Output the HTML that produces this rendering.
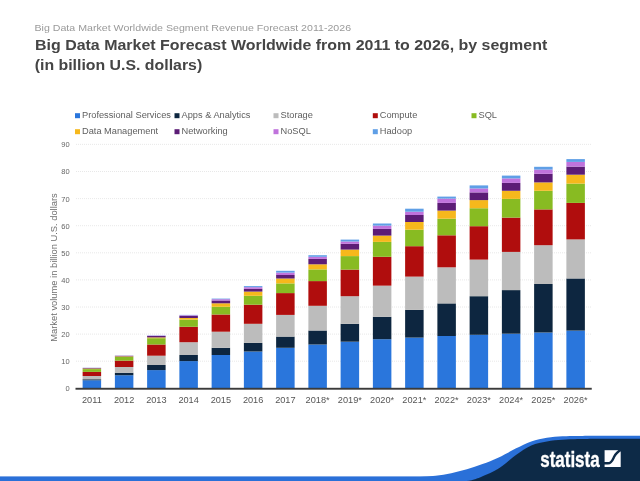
<!DOCTYPE html>
<html lang="en"><head><meta charset="utf-8"><title>Big Data Market Forecast Worldwide from 2011 to 2026, by segment</title>
<style>html,body{margin:0;padding:0;background:#fff}body{width:640px;height:481px;overflow:hidden}</style></head>
<body>
<svg width="640" height="481" viewBox="0 0 640 481" style="display:block;font-family:'Liberation Sans',sans-serif">
<defs><filter id="soft" x="0" y="0" width="640" height="481" filterUnits="userSpaceOnUse"><feGaussianBlur stdDeviation="0.6" edgeMode="duplicate"/></filter></defs>
<g filter="url(#soft)">
<rect width="640" height="481" fill="#fff"/>
<text x="34.5" y="31.2" font-size="9.6" fill="#9a9a9a" textLength="316.6" lengthAdjust="spacingAndGlyphs">Big Data Market Worldwide Segment Revenue Forecast 2011-2026</text>
<text x="35" y="50.4" font-size="14.7" font-weight="bold" fill="#454545" textLength="512.2" lengthAdjust="spacingAndGlyphs">Big Data Market Forecast Worldwide from 2011 to 2026, by segment</text>
<text x="34.7" y="69.9" font-size="14.7" font-weight="bold" fill="#454545" textLength="167.5" lengthAdjust="spacingAndGlyphs">(in billion U.S. dollars)</text>
<rect x="75" y="113.2" width="5" height="5" fill="#2976dc"/>
<text x="82" y="118.3" font-size="9.25" fill="#5e5e5e">Professional Services</text>
<rect x="174.5" y="113.2" width="5" height="5" fill="#10283f"/>
<text x="181.5" y="118.3" font-size="9.25" fill="#5e5e5e">Apps &amp; Analytics</text>
<rect x="273.5" y="113.2" width="5" height="5" fill="#bcbcbc"/>
<text x="280.5" y="118.3" font-size="9.25" fill="#5e5e5e">Storage</text>
<rect x="372.8" y="113.2" width="5" height="5" fill="#b00d0b"/>
<text x="379.8" y="118.3" font-size="9.25" fill="#5e5e5e">Compute</text>
<rect x="471.5" y="113.2" width="5" height="5" fill="#88bb22"/>
<text x="478.5" y="118.3" font-size="9.25" fill="#5e5e5e">SQL</text>
<rect x="75" y="129.2" width="5" height="5" fill="#f6b81d"/>
<text x="82" y="134.29999999999998" font-size="9.25" fill="#5e5e5e">Data Management</text>
<rect x="174.5" y="129.2" width="5" height="5" fill="#5b1f76"/>
<text x="181.5" y="134.29999999999998" font-size="9.25" fill="#5e5e5e">Networking</text>
<rect x="273.5" y="129.2" width="5" height="5" fill="#c073dc"/>
<text x="280.5" y="134.29999999999998" font-size="9.25" fill="#5e5e5e">NoSQL</text>
<rect x="372.8" y="129.2" width="5" height="5" fill="#5f9fe6"/>
<text x="379.8" y="134.29999999999998" font-size="9.25" fill="#5e5e5e">Hadoop</text>
<line x1="76" x2="591.75" y1="361.20" y2="361.20" stroke="#e2e2e2" stroke-width="0.8" stroke-dasharray="1 1"/>
<line x1="76" x2="591.75" y1="334.10" y2="334.10" stroke="#e2e2e2" stroke-width="0.8" stroke-dasharray="1 1"/>
<line x1="76" x2="591.75" y1="307.00" y2="307.00" stroke="#e2e2e2" stroke-width="0.8" stroke-dasharray="1 1"/>
<line x1="76" x2="591.75" y1="279.90" y2="279.90" stroke="#e2e2e2" stroke-width="0.8" stroke-dasharray="1 1"/>
<line x1="76" x2="591.75" y1="252.80" y2="252.80" stroke="#e2e2e2" stroke-width="0.8" stroke-dasharray="1 1"/>
<line x1="76" x2="591.75" y1="225.70" y2="225.70" stroke="#e2e2e2" stroke-width="0.8" stroke-dasharray="1 1"/>
<line x1="76" x2="591.75" y1="198.60" y2="198.60" stroke="#e2e2e2" stroke-width="0.8" stroke-dasharray="1 1"/>
<line x1="76" x2="591.75" y1="171.50" y2="171.50" stroke="#e2e2e2" stroke-width="0.8" stroke-dasharray="1 1"/>
<line x1="76" x2="591.75" y1="144.40" y2="144.40" stroke="#e2e2e2" stroke-width="0.8" stroke-dasharray="1 1"/>
<text x="69.6" y="391.20" font-size="7.5" fill="#666" text-anchor="end">0</text>
<text x="69.6" y="364.10" font-size="7.5" fill="#666" text-anchor="end">10</text>
<text x="69.6" y="337.00" font-size="7.5" fill="#666" text-anchor="end">20</text>
<text x="69.6" y="309.90" font-size="7.5" fill="#666" text-anchor="end">30</text>
<text x="69.6" y="282.80" font-size="7.5" fill="#666" text-anchor="end">40</text>
<text x="69.6" y="255.70" font-size="7.5" fill="#666" text-anchor="end">50</text>
<text x="69.6" y="228.60" font-size="7.5" fill="#666" text-anchor="end">60</text>
<text x="69.6" y="201.50" font-size="7.5" fill="#666" text-anchor="end">70</text>
<text x="69.6" y="174.40" font-size="7.5" fill="#666" text-anchor="end">80</text>
<text x="69.6" y="147.30" font-size="7.5" fill="#666" text-anchor="end">90</text>
<text transform="translate(57.1 267.5) rotate(-90)" font-size="9" fill="#6e6e6e" text-anchor="middle" textLength="148.5" lengthAdjust="spacingAndGlyphs">Market volume in billion U.S. dollars</text>
<rect x="82.62" y="380.25" width="18.5" height="8.05" fill="#2976dc"/>
<rect x="82.62" y="379.25" width="18.5" height="1.00" fill="#10283f"/>
<rect x="82.62" y="376.00" width="18.5" height="3.25" fill="#bcbcbc"/>
<rect x="82.62" y="371.90" width="18.5" height="4.10" fill="#b00d0b"/>
<rect x="82.62" y="369.10" width="18.5" height="2.80" fill="#88bb22"/>
<rect x="82.62" y="368.50" width="18.5" height="0.60" fill="#f6b81d"/>
<rect x="82.62" y="367.95" width="18.5" height="0.55" fill="#5b1f76"/>
<rect x="82.62" y="367.85" width="18.5" height="0.10" fill="#c073dc"/>
<rect x="82.62" y="367.75" width="18.5" height="0.10" fill="#5f9fe6"/>
<text x="91.88" y="403" font-size="9.2" fill="#555" text-anchor="middle">2011</text>
<rect x="114.88" y="375.25" width="18.5" height="13.05" fill="#2976dc"/>
<rect x="114.88" y="372.75" width="18.5" height="2.50" fill="#10283f"/>
<rect x="114.88" y="367.00" width="18.5" height="5.75" fill="#bcbcbc"/>
<rect x="114.88" y="360.60" width="18.5" height="6.40" fill="#b00d0b"/>
<rect x="114.88" y="356.90" width="18.5" height="3.70" fill="#88bb22"/>
<rect x="114.88" y="356.35" width="18.5" height="0.55" fill="#f6b81d"/>
<rect x="114.88" y="355.80" width="18.5" height="0.55" fill="#5b1f76"/>
<rect x="114.88" y="355.70" width="18.5" height="0.10" fill="#c073dc"/>
<rect x="114.88" y="355.60" width="18.5" height="0.10" fill="#5f9fe6"/>
<text x="124.12" y="403" font-size="9.2" fill="#555" text-anchor="middle">2012</text>
<rect x="147.12" y="370.10" width="18.5" height="18.20" fill="#2976dc"/>
<rect x="147.12" y="365.00" width="18.5" height="5.10" fill="#10283f"/>
<rect x="147.12" y="355.70" width="18.5" height="9.30" fill="#bcbcbc"/>
<rect x="147.12" y="344.50" width="18.5" height="11.20" fill="#b00d0b"/>
<rect x="147.12" y="338.20" width="18.5" height="6.30" fill="#88bb22"/>
<rect x="147.12" y="337.40" width="18.5" height="0.80" fill="#f6b81d"/>
<rect x="147.12" y="336.00" width="18.5" height="1.40" fill="#5b1f76"/>
<rect x="147.12" y="335.60" width="18.5" height="0.40" fill="#c073dc"/>
<rect x="147.12" y="335.40" width="18.5" height="0.20" fill="#5f9fe6"/>
<text x="156.38" y="403" font-size="9.2" fill="#555" text-anchor="middle">2013</text>
<rect x="179.38" y="361.10" width="18.5" height="27.20" fill="#2976dc"/>
<rect x="179.38" y="355.00" width="18.5" height="6.10" fill="#10283f"/>
<rect x="179.38" y="342.20" width="18.5" height="12.80" fill="#bcbcbc"/>
<rect x="179.38" y="326.80" width="18.5" height="15.40" fill="#b00d0b"/>
<rect x="179.38" y="319.60" width="18.5" height="7.20" fill="#88bb22"/>
<rect x="179.38" y="318.00" width="18.5" height="1.60" fill="#f6b81d"/>
<rect x="179.38" y="315.80" width="18.5" height="2.20" fill="#5b1f76"/>
<rect x="179.38" y="315.20" width="18.5" height="0.60" fill="#c073dc"/>
<rect x="179.38" y="314.90" width="18.5" height="0.30" fill="#5f9fe6"/>
<text x="188.62" y="403" font-size="9.2" fill="#555" text-anchor="middle">2014</text>
<rect x="211.62" y="355.00" width="18.5" height="33.30" fill="#2976dc"/>
<rect x="211.62" y="347.80" width="18.5" height="7.20" fill="#10283f"/>
<rect x="211.62" y="331.70" width="18.5" height="16.10" fill="#bcbcbc"/>
<rect x="211.62" y="314.50" width="18.5" height="17.20" fill="#b00d0b"/>
<rect x="211.62" y="306.80" width="18.5" height="7.70" fill="#88bb22"/>
<rect x="211.62" y="303.30" width="18.5" height="3.50" fill="#f6b81d"/>
<rect x="211.62" y="300.50" width="18.5" height="2.80" fill="#5b1f76"/>
<rect x="211.62" y="299.20" width="18.5" height="1.30" fill="#c073dc"/>
<rect x="211.62" y="298.60" width="18.5" height="0.60" fill="#5f9fe6"/>
<text x="220.88" y="403" font-size="9.2" fill="#555" text-anchor="middle">2015</text>
<rect x="243.88" y="351.50" width="18.5" height="36.80" fill="#2976dc"/>
<rect x="243.88" y="342.90" width="18.5" height="8.60" fill="#10283f"/>
<rect x="243.88" y="323.80" width="18.5" height="19.10" fill="#bcbcbc"/>
<rect x="243.88" y="304.70" width="18.5" height="19.10" fill="#b00d0b"/>
<rect x="243.88" y="295.80" width="18.5" height="8.90" fill="#88bb22"/>
<rect x="243.88" y="291.60" width="18.5" height="4.20" fill="#f6b81d"/>
<rect x="243.88" y="288.85" width="18.5" height="2.75" fill="#5b1f76"/>
<rect x="243.88" y="287.20" width="18.5" height="1.65" fill="#c073dc"/>
<rect x="243.88" y="286.10" width="18.5" height="1.10" fill="#5f9fe6"/>
<text x="253.12" y="403" font-size="9.2" fill="#555" text-anchor="middle">2016</text>
<rect x="276.12" y="347.80" width="18.5" height="40.50" fill="#2976dc"/>
<rect x="276.12" y="336.60" width="18.5" height="11.20" fill="#10283f"/>
<rect x="276.12" y="314.90" width="18.5" height="21.70" fill="#bcbcbc"/>
<rect x="276.12" y="293.10" width="18.5" height="21.80" fill="#b00d0b"/>
<rect x="276.12" y="283.40" width="18.5" height="9.70" fill="#88bb22"/>
<rect x="276.12" y="278.50" width="18.5" height="4.90" fill="#f6b81d"/>
<rect x="276.12" y="275.00" width="18.5" height="3.50" fill="#5b1f76"/>
<rect x="276.12" y="272.60" width="18.5" height="2.40" fill="#c073dc"/>
<rect x="276.12" y="270.80" width="18.5" height="1.80" fill="#5f9fe6"/>
<text x="285.38" y="403" font-size="9.2" fill="#555" text-anchor="middle">2017</text>
<rect x="308.38" y="344.50" width="18.5" height="43.80" fill="#2976dc"/>
<rect x="308.38" y="330.50" width="18.5" height="14.00" fill="#10283f"/>
<rect x="308.38" y="305.80" width="18.5" height="24.70" fill="#bcbcbc"/>
<rect x="308.38" y="281.10" width="18.5" height="24.70" fill="#b00d0b"/>
<rect x="308.38" y="269.40" width="18.5" height="11.70" fill="#88bb22"/>
<rect x="308.38" y="264.30" width="18.5" height="5.10" fill="#f6b81d"/>
<rect x="308.38" y="258.90" width="18.5" height="5.40" fill="#5b1f76"/>
<rect x="308.38" y="256.80" width="18.5" height="2.10" fill="#c073dc"/>
<rect x="308.38" y="255.20" width="18.5" height="1.60" fill="#5f9fe6"/>
<text x="317.62" y="403" font-size="9.2" fill="#555" text-anchor="middle">2018*</text>
<rect x="340.62" y="341.70" width="18.5" height="46.60" fill="#2976dc"/>
<rect x="340.62" y="323.80" width="18.5" height="17.90" fill="#10283f"/>
<rect x="340.62" y="296.20" width="18.5" height="27.60" fill="#bcbcbc"/>
<rect x="340.62" y="269.60" width="18.5" height="26.60" fill="#b00d0b"/>
<rect x="340.62" y="256.10" width="18.5" height="13.50" fill="#88bb22"/>
<rect x="340.62" y="249.60" width="18.5" height="6.50" fill="#f6b81d"/>
<rect x="340.62" y="243.80" width="18.5" height="5.80" fill="#5b1f76"/>
<rect x="340.62" y="241.50" width="18.5" height="2.30" fill="#c073dc"/>
<rect x="340.62" y="239.60" width="18.5" height="1.90" fill="#5f9fe6"/>
<text x="349.88" y="403" font-size="9.2" fill="#555" text-anchor="middle">2019*</text>
<rect x="372.88" y="339.20" width="18.5" height="49.10" fill="#2976dc"/>
<rect x="372.88" y="316.80" width="18.5" height="22.40" fill="#10283f"/>
<rect x="372.88" y="285.65" width="18.5" height="31.15" fill="#bcbcbc"/>
<rect x="372.88" y="256.80" width="18.5" height="28.85" fill="#b00d0b"/>
<rect x="372.88" y="241.90" width="18.5" height="14.90" fill="#88bb22"/>
<rect x="372.88" y="235.60" width="18.5" height="6.30" fill="#f6b81d"/>
<rect x="372.88" y="228.90" width="18.5" height="6.70" fill="#5b1f76"/>
<rect x="372.88" y="225.60" width="18.5" height="3.30" fill="#c073dc"/>
<rect x="372.88" y="223.50" width="18.5" height="2.10" fill="#5f9fe6"/>
<text x="382.12" y="403" font-size="9.2" fill="#555" text-anchor="middle">2020*</text>
<rect x="405.12" y="337.60" width="18.5" height="50.70" fill="#2976dc"/>
<rect x="405.12" y="309.90" width="18.5" height="27.70" fill="#10283f"/>
<rect x="405.12" y="276.60" width="18.5" height="33.30" fill="#bcbcbc"/>
<rect x="405.12" y="246.20" width="18.5" height="30.40" fill="#b00d0b"/>
<rect x="405.12" y="229.70" width="18.5" height="16.50" fill="#88bb22"/>
<rect x="405.12" y="222.00" width="18.5" height="7.70" fill="#f6b81d"/>
<rect x="405.12" y="215.00" width="18.5" height="7.00" fill="#5b1f76"/>
<rect x="405.12" y="211.70" width="18.5" height="3.30" fill="#c073dc"/>
<rect x="405.12" y="208.70" width="18.5" height="3.00" fill="#5f9fe6"/>
<text x="414.38" y="403" font-size="9.2" fill="#555" text-anchor="middle">2021*</text>
<rect x="437.38" y="336.00" width="18.5" height="52.30" fill="#2976dc"/>
<rect x="437.38" y="303.40" width="18.5" height="32.60" fill="#10283f"/>
<rect x="437.38" y="267.30" width="18.5" height="36.10" fill="#bcbcbc"/>
<rect x="437.38" y="235.30" width="18.5" height="32.00" fill="#b00d0b"/>
<rect x="437.38" y="218.70" width="18.5" height="16.60" fill="#88bb22"/>
<rect x="437.38" y="210.60" width="18.5" height="8.10" fill="#f6b81d"/>
<rect x="437.38" y="202.90" width="18.5" height="7.70" fill="#5b1f76"/>
<rect x="437.38" y="198.60" width="18.5" height="4.30" fill="#c073dc"/>
<rect x="437.38" y="196.60" width="18.5" height="2.00" fill="#5f9fe6"/>
<text x="446.62" y="403" font-size="9.2" fill="#555" text-anchor="middle">2022*</text>
<rect x="469.62" y="334.80" width="18.5" height="53.50" fill="#2976dc"/>
<rect x="469.62" y="296.20" width="18.5" height="38.60" fill="#10283f"/>
<rect x="469.62" y="259.60" width="18.5" height="36.60" fill="#bcbcbc"/>
<rect x="469.62" y="226.20" width="18.5" height="33.40" fill="#b00d0b"/>
<rect x="469.62" y="208.25" width="18.5" height="17.95" fill="#88bb22"/>
<rect x="469.62" y="200.10" width="18.5" height="8.15" fill="#f6b81d"/>
<rect x="469.62" y="192.40" width="18.5" height="7.70" fill="#5b1f76"/>
<rect x="469.62" y="188.45" width="18.5" height="3.95" fill="#c073dc"/>
<rect x="469.62" y="185.40" width="18.5" height="3.05" fill="#5f9fe6"/>
<text x="478.88" y="403" font-size="9.2" fill="#555" text-anchor="middle">2023*</text>
<rect x="501.88" y="333.70" width="18.5" height="54.60" fill="#2976dc"/>
<rect x="501.88" y="290.10" width="18.5" height="43.60" fill="#10283f"/>
<rect x="501.88" y="251.90" width="18.5" height="38.20" fill="#bcbcbc"/>
<rect x="501.88" y="217.60" width="18.5" height="34.30" fill="#b00d0b"/>
<rect x="501.88" y="198.90" width="18.5" height="18.70" fill="#88bb22"/>
<rect x="501.88" y="190.80" width="18.5" height="8.10" fill="#f6b81d"/>
<rect x="501.88" y="182.90" width="18.5" height="7.90" fill="#5b1f76"/>
<rect x="501.88" y="178.40" width="18.5" height="4.50" fill="#c073dc"/>
<rect x="501.88" y="175.60" width="18.5" height="2.80" fill="#5f9fe6"/>
<text x="511.12" y="403" font-size="9.2" fill="#555" text-anchor="middle">2024*</text>
<rect x="534.12" y="332.50" width="18.5" height="55.80" fill="#2976dc"/>
<rect x="534.12" y="284.00" width="18.5" height="48.50" fill="#10283f"/>
<rect x="534.12" y="245.20" width="18.5" height="38.80" fill="#bcbcbc"/>
<rect x="534.12" y="209.40" width="18.5" height="35.80" fill="#b00d0b"/>
<rect x="534.12" y="190.80" width="18.5" height="18.60" fill="#88bb22"/>
<rect x="534.12" y="182.40" width="18.5" height="8.40" fill="#f6b81d"/>
<rect x="534.12" y="173.80" width="18.5" height="8.60" fill="#5b1f76"/>
<rect x="534.12" y="169.60" width="18.5" height="4.20" fill="#c073dc"/>
<rect x="534.12" y="166.80" width="18.5" height="2.80" fill="#5f9fe6"/>
<text x="543.38" y="403" font-size="9.2" fill="#555" text-anchor="middle">2025*</text>
<rect x="566.38" y="330.60" width="18.5" height="57.70" fill="#2976dc"/>
<rect x="566.38" y="278.45" width="18.5" height="52.15" fill="#10283f"/>
<rect x="566.38" y="239.40" width="18.5" height="39.05" fill="#bcbcbc"/>
<rect x="566.38" y="202.90" width="18.5" height="36.50" fill="#b00d0b"/>
<rect x="566.38" y="183.60" width="18.5" height="19.30" fill="#88bb22"/>
<rect x="566.38" y="174.70" width="18.5" height="8.90" fill="#f6b81d"/>
<rect x="566.38" y="166.60" width="18.5" height="8.10" fill="#5b1f76"/>
<rect x="566.38" y="161.90" width="18.5" height="4.70" fill="#c073dc"/>
<rect x="566.38" y="159.10" width="18.5" height="2.80" fill="#5f9fe6"/>
<text x="575.62" y="403" font-size="9.2" fill="#555" text-anchor="middle">2026*</text>
<rect x="75.5" y="387.8" width="516.25" height="1.9" fill="#3a3a3a"/>
<rect x="0" y="476.4" width="640" height="5" fill="#2b6fd8"/>
<path d="M405 477.5 C407.5 477.4 414.9 477.3 420 477 C425.1 476.7 430.4 476.4 435.6 475.8 C440.8 475.2 446.0 474.3 451.25 473.2 C456.5 472.1 461.7 470.8 466.9 469.3 C472.1 467.8 477.3 466.0 482.5 464.1 C487.7 462.2 492.6 460.4 498.1 457.8 C503.6 455.2 510.1 451.3 515.6 448.6 C521.1 445.9 526.0 443.2 531.25 441.4 C536.5 439.6 541.7 438.7 546.9 437.8 C552.1 436.9 557.3 436.6 562.5 436.25 C567.7 435.9 571.8 436.0 578 435.9 C584.2 435.8 589.7 435.7 600 435.7 C610.3 435.7 633.3 435.7 640 435.7 L640 481 L405 481 Z" fill="#2b6fd8"/>
<path d="M465 481.5 C466.5 481.2 471.1 480.5 474 479.6 C476.9 478.7 478.3 478.2 482.5 476.3 C486.7 474.4 493.5 471.7 499 468.2 C504.5 464.7 510.2 459.0 515.6 455.2 C521.0 451.4 526.0 447.8 531.25 445.5 C536.5 443.2 541.7 442.3 546.9 441.4 C552.1 440.4 557.3 440.2 562.5 439.8 C567.7 439.4 571.8 439.3 578 439.1 C584.2 438.9 589.7 438.8 600 438.7 C610.3 438.6 633.3 438.7 640 438.7 L640 481.5 Z" fill="#0f2a47"/>
<text x="540.2" y="467.1" font-size="21.6" font-weight="bold" fill="#fff" stroke="#fff" stroke-width="0.35" textLength="59.5" lengthAdjust="spacingAndGlyphs">statista</text>
<rect x="604.6" y="450.2" width="16.1" height="16.8" fill="#fdfdff"/>
<path d="M604 463.3 L608 463.3 C611.5 463.3 612.6 460 614 457 C615.5 453.8 617.5 451.6 621.5 449.6" fill="none" stroke="#0f2a47" stroke-width="2.4"/>
</g>
</svg>
</body></html>
